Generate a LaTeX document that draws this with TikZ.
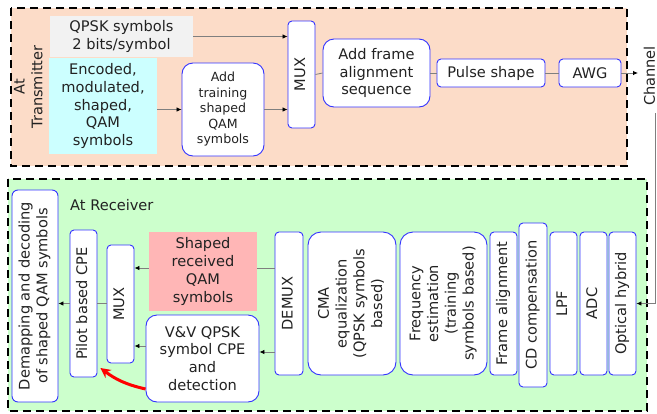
\documentclass[tikz,border=0pt]{standalone}
\usepackage{fontspec}
\setmainfont{DejaVu Sans}
\usepackage{graphicx}
\usetikzlibrary{arrows.meta}
\definecolor{peach}{HTML}{FCDCC8}
\definecolor{lgreen}{HTML}{CCFFCC}
\definecolor{lcyan}{HTML}{CCFFFF}
\definecolor{lgray}{HTML}{F2F2F2}
\definecolor{lpink}{HTML}{FFB6B6}
\definecolor{bblue}{HTML}{3333FF}
\definecolor{lineg}{HTML}{7F7F7F}
\definecolor{txt}{HTML}{222222}
\newcommand{\vtext}[1]{\rotatebox{90}{\begin{tabular}{@{}c@{}}#1\end{tabular}}}
\begin{document}
\begin{tikzpicture}[x=1pt,y=-1pt,
  every node/.style={font=\fontsize{14.6}{17.7}\selectfont, text=txt},
  region/.style={draw=black, line width=1.8pt, dash pattern=on 8pt off 5pt},
  blk/.style={draw=bblue, line width=0.9pt, fill=white, rounded corners=4pt, inner sep=0pt, align=center},
  bigblk/.style={blk, rounded corners=11pt},
  plain/.style={inner sep=0pt, align=center},
  conn/.style={draw=lineg, line width=0.8pt},
  arr/.style={conn, -{Latex[length=5pt,width=4.5pt,color=black]}},
  redarr/.style={draw=red, line width=3pt, -{Stealth[length=10pt,width=10pt]}}
]
\useasboundingbox (0,0) rectangle (657,413);

% regions
\draw[region, fill=peach] (11,8) rectangle (627,166);
\draw[region, fill=lgreen] (8,179) rectangle (647,411);

% transmitter
\node[plain] (tx) at (30,87) {\vtext{At\\Transmitter}};
\node[plain, fill=lgray, minimum width=143pt, minimum height=41pt] (qpsk) at (121.5,36.5) {QPSK symbols\\2 bits/symbol};
\node[plain, fill=lcyan, minimum width=108pt, minimum height=96pt] (enc) at (103,106) {Encoded,\\modulated,\\shaped,\\QAM\\symbols};
\node[bigblk, minimum width=82pt, minimum height=93pt, font=\fontsize{12.6}{15.5}\selectfont] (train) at (223,109.5) {Add\\training\\shaped\\QAM\\symbols};
\node[blk, minimum width=27pt, minimum height=107pt] (mux1) at (301.5,74.5) {\vtext{MUX}};
\node[bigblk, minimum width=107pt, minimum height=68pt] (frame) at (376.5,73) {Add frame\\alignment\\sequence};
\node[blk, minimum width=108pt, minimum height=28pt] (pulse) at (491,73) {Pulse shape};
\node[blk, minimum width=62pt, minimum height=28pt] (awg) at (590,73) {AWG};

\draw[arr] (qpsk.east) -- (qpsk.east -| mux1.west);
\draw[arr] (train.west -| enc.east) -- (train.west);
\draw[arr] (train.east) -- (train.east -| mux1.west);
\draw[conn] (mux1.east) -- (frame.west);
\draw[conn] (frame.east) -- (pulse.west);
\draw[conn] (pulse.east) -- (awg.west);
\coordinate (chout) at (638,73);
\draw[arr] (awg.east) -- (chout);

% channel
\node[plain] (chan) at (649.5,76) {\rotatebox{90}{Channel}};
\coordinate (chtop) at (655,113);

% receiver
\node[plain, anchor=west] (rx) at (70,205) {At Receiver};
\node[blk, rounded corners=6pt, minimum width=46pt, minimum height=212pt] (demap) at (35,296) {\vtext{Demapping and decoding\\of shaped QAM symbols}};
\node[blk, minimum width=27pt, minimum height=147pt] (pilot) at (83.5,303.5) {\vtext{Pilot based CPE}};
\node[blk, minimum width=27pt, minimum height=118pt] (mux2) at (120.5,304) {\vtext{MUX}};
\node[plain, fill=lpink, minimum width=108pt, minimum height=79pt] (shaped) at (203,271.5) {Shaped\\received\\QAM\\symbols};
\node[bigblk, minimum width=113pt, minimum height=87pt] (vv) at (202.5,358.5) {V\&V QPSK\\symbol CPE\\and\\detection};
\node[blk, minimum width=28pt, minimum height=143pt] (demux) at (289,303.5) {\vtext{DEMUX}};
\node[bigblk, rounded corners=13pt, minimum width=88pt, minimum height=143pt] (cma) at (352,303.5) {\vtext{CMA\\equalization\\(QPSK symbols\\based)}};
\node[bigblk, rounded corners=13pt, minimum width=87pt, minimum height=143pt] (freq) at (443.5,303.5) {\vtext{Frequency\\estimation\\(training\\symbols based)}};
\node[blk, minimum width=27pt, minimum height=143pt] (falign) at (503.5,303.5) {\vtext{Frame alignment}};
\node[blk, minimum width=28pt, minimum height=164pt] (cd) at (533,305) {\vtext{CD compensation}};
\node[blk, minimum width=27pt, minimum height=143pt] (lpf) at (563.5,303.5) {\vtext{LPF}};
\node[blk, minimum width=27pt, minimum height=143pt] (adc) at (593.5,303.5) {\vtext{ADC}};
\node[blk, minimum width=27pt, minimum height=143pt] (ohyb) at (622.5,303.5) {\vtext{Optical hybrid}};

\draw[arr] (chtop) |- (ohyb.east);
\draw[conn] (demux.west |- shaped.east) ++(0,-3.5) coordinate (d1) -- (d1 -| shaped.east);
\draw[arr] (shaped.west |- d1) -- (d1 -| mux2.east);
\coordinate (d2) at (demux.west |- 0,352);
\draw[arr] (d2) -- (d2 -| vv.east);
\coordinate (d3) at (vv.west |- 0,346);
\draw[arr] (d3) -- (d3 -| mux2.east);
\draw[conn] (mux2.west |- pilot.east) -- (pilot.east);
\draw[arr] (pilot.west) -- (pilot.west -| demap.east);
\coordinate (rs) at (vv.west |- 0,389);
\coordinate (rt) at (pilot.south east |- 0,368);
\draw[redarr] (rs) to[bend left=12] ([xshift=3pt]rt);
\end{tikzpicture}
\end{document}
